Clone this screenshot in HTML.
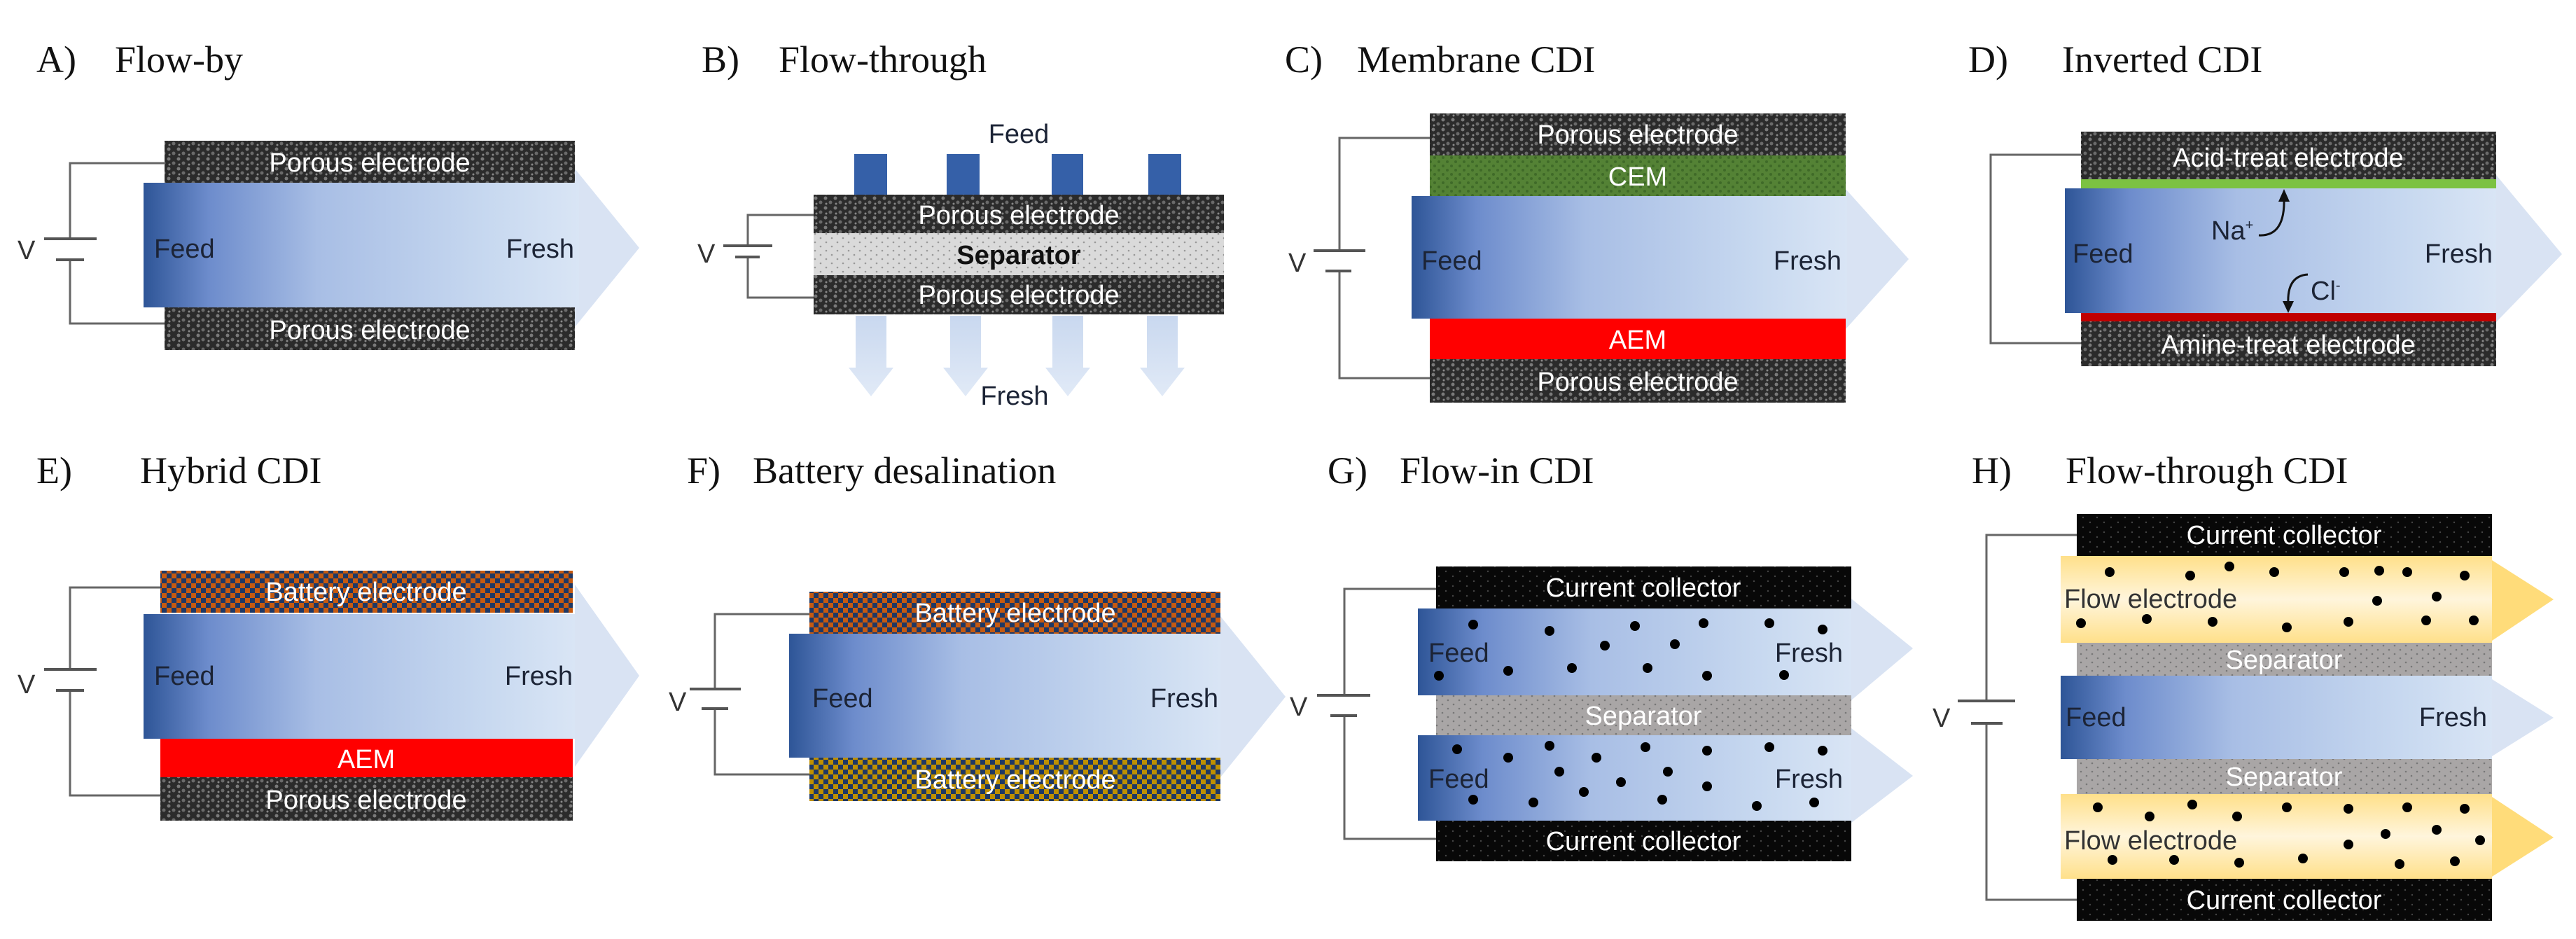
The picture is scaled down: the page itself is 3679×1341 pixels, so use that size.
<!DOCTYPE html>
<html><head><meta charset="utf-8"><style>
html,body{margin:0;padding:0;background:#fff;}
svg{display:block;}
.t{font-family:"Liberation Serif",serif;font-size:54px;fill:#111;}
.l{font-family:"Liberation Sans",sans-serif;font-size:38px;}
.w{fill:#fff;text-anchor:middle;}
.d{fill:#1c2436;}
.wire{stroke:#666;stroke-width:3;fill:none;}
.plate{stroke:#555;stroke-width:4;}
</style></head><body>
<svg width="3679" height="1341" viewBox="0 0 3679 1341" xmlns="http://www.w3.org/2000/svg">
<defs>
<pattern id="por" width="14" height="14" patternUnits="userSpaceOnUse"><rect width="14" height="14" fill="#2b2b2b"/><circle cx="3" cy="3" r="2.5" fill="#7a7a7a"/><circle cx="10" cy="9" r="2.5" fill="#6a6a6a"/><circle cx="4" cy="11" r="1.5" fill="#888"/></pattern>
<pattern id="bat1" width="14" height="14" patternUnits="userSpaceOnUse"><rect width="14" height="14" fill="#1f3864"/><rect width="7" height="7" fill="#c55a11"/><rect x="7" y="7" width="7" height="7" fill="#c55a11"/></pattern>
<pattern id="bat2" width="14" height="14" patternUnits="userSpaceOnUse"><rect width="14" height="14" fill="#1f3864"/><rect width="7" height="7" fill="#bf9000"/><rect x="7" y="7" width="7" height="7" fill="#bf9000"/></pattern>
<pattern id="sepl" width="16" height="12" patternUnits="userSpaceOnUse"><rect width="16" height="12" fill="#dadada"/><circle cx="4" cy="4" r="1.3" fill="#999"/><circle cx="12" cy="10" r="1.3" fill="#999"/></pattern>
<pattern id="sepg" width="16" height="12" patternUnits="userSpaceOnUse"><rect width="16" height="12" fill="#a9a6a6"/><circle cx="4" cy="4" r="1.3" fill="#777"/><circle cx="12" cy="10" r="1.3" fill="#777"/></pattern>
<pattern id="cc" width="20" height="14" patternUnits="userSpaceOnUse"><rect width="20" height="14" fill="#080808"/><circle cx="5" cy="4" r="1.2" fill="#444"/><circle cx="15" cy="11" r="1.2" fill="#444"/></pattern>
<pattern id="cem" width="12" height="12" patternUnits="userSpaceOnUse"><rect width="12" height="12" fill="#548235"/><circle cx="3" cy="3" r="2" fill="#3f6a28"/><circle cx="9" cy="9" r="2" fill="#3f6a28"/></pattern>
<linearGradient id="blue" x1="0" y1="0" x2="1" y2="0"><stop offset="0" stop-color="#2e5597"/><stop offset="0.15" stop-color="#6d8ccc"/><stop offset="0.4" stop-color="#a8bee5"/><stop offset="0.8" stop-color="#c8d9f0"/><stop offset="1" stop-color="#d9e5f5"/></linearGradient>
<linearGradient id="yel" x1="0" y1="0" x2="0" y2="1"><stop offset="0" stop-color="#ffe08a"/><stop offset="0.5" stop-color="#fff5dc"/><stop offset="1" stop-color="#ffe08a"/></linearGradient>
<linearGradient id="dn" x1="0" y1="0" x2="0" y2="1"><stop offset="0" stop-color="#c9d8ef"/><stop offset="1" stop-color="#e1eaf7"/></linearGradient>
</defs>

<!-- Titles -->
<text class="t" x="52" y="103">A)</text><text class="t" x="164" y="103">Flow-by</text>
<text class="t" x="1002" y="103">B)</text><text class="t" x="1112" y="103">Flow-through</text>
<text class="t" x="1835" y="103">C)</text><text class="t" x="1938" y="103">Membrane CDI</text>
<text class="t" x="2811" y="103">D)</text><text class="t" x="2945" y="103">Inverted CDI</text>
<text class="t" x="52" y="690">E)</text><text class="t" x="200" y="690">Hybrid CDI</text>
<text class="t" x="981" y="690">F)</text><text class="t" x="1075" y="690">Battery desalination</text>
<text class="t" x="1896" y="690">G)</text><text class="t" x="1999" y="690">Flow-in CDI</text>
<text class="t" x="2816" y="690">H)</text><text class="t" x="2950" y="690">Flow-through CDI</text>

<!-- A -->
<polygon points="821,241 913,354 821,467" fill="#d9e3f3"/>
<rect x="235" y="201" width="586" height="60" fill="url(#por)"/>
<text class="l w" x="528" y="245">Porous electrode</text>
<rect x="205" y="261" width="622" height="178" fill="url(#blue)"/>
<rect x="235" y="439" width="586" height="61" fill="url(#por)"/>
<text class="l w" x="528" y="484">Porous electrode</text>
<text class="l d" x="220" y="368">Feed</text><text class="l d" x="820" y="368" text-anchor="end">Fresh</text>
<path class="wire" d="M235,233 H100 V341 M100,371 V462 H235"/>
<line class="plate" x1="63" y1="341" x2="138" y2="341"/><line class="plate" x1="80" y1="371" x2="120" y2="371"/>
<text class="l" x="25" y="370" fill="#333">V</text>

<!-- B -->
<rect x="1220" y="220" width="47" height="58" fill="#3560a8"/><rect x="1352" y="220" width="47" height="58" fill="#3560a8"/>
<rect x="1502" y="220" width="45" height="58" fill="#3560a8"/><rect x="1640" y="220" width="47" height="58" fill="#3560a8"/>
<text class="l d" x="1455" y="204" text-anchor="middle">Feed</text>
<rect x="1162" y="278" width="586" height="55" fill="url(#por)"/>
<text class="l w" x="1455" y="320">Porous electrode</text>
<rect x="1162" y="333" width="586" height="60" fill="url(#sepl)"/>
<text class="l" x="1455" y="377" text-anchor="middle" font-weight="bold" fill="#111">Separator</text>
<rect x="1162" y="393" width="586" height="56" fill="url(#por)"/>
<text class="l w" x="1455" y="434">Porous electrode</text>
<g fill="url(#dn)">
<polygon points="1222,451 1266,451 1266,525 1276,525 1244,566 1212,525 1222,525"/>
<polygon points="1357,451 1401,451 1401,525 1411,525 1379,566 1347,525 1357,525"/>
<polygon points="1503,451 1547,451 1547,525 1557,525 1525,566 1493,525 1503,525"/>
<polygon points="1638,451 1682,451 1682,525 1692,525 1660,566 1628,525 1638,525"/>
</g>
<text class="l d" x="1449" y="578" text-anchor="middle">Fresh</text>
<path class="wire" d="M1162,307 H1068 V351 M1068,367 V425 H1162"/>
<line class="plate" x1="1033" y1="351" x2="1103" y2="351"/><line class="plate" x1="1050" y1="367" x2="1085" y2="367"/>
<text class="l" x="996" y="375" fill="#333">V</text>

<!-- C -->
<polygon points="2636,270 2726,370 2636,470" fill="#d9e3f3"/>
<rect x="2042" y="162" width="594" height="60" fill="url(#por)"/>
<text class="l w" x="2339" y="205">Porous electrode</text>
<rect x="2042" y="222" width="594" height="58" fill="url(#cem)"/>
<text class="l w" x="2339" y="265">CEM</text>
<rect x="2016" y="280" width="622" height="175" fill="url(#blue)"/>
<rect x="2042" y="455" width="594" height="58" fill="#ff0000"/>
<text class="l w" x="2339" y="498">AEM</text>
<rect x="2042" y="513" width="594" height="62" fill="url(#por)"/>
<text class="l w" x="2339" y="558">Porous electrode</text>
<text class="l d" x="2030" y="385">Feed</text><text class="l d" x="2630" y="385" text-anchor="end">Fresh</text>
<path class="wire" d="M2042,197 H1913 V358 M1913,387 V540 H2042"/>
<line class="plate" x1="1876" y1="358" x2="1950" y2="358"/><line class="plate" x1="1893" y1="387" x2="1930" y2="387"/>
<text class="l" x="1840" y="388" fill="#333">V</text>

<!-- D -->
<polygon points="3565,250 3659,363 3565,460" fill="#d9e3f3"/>
<rect x="2972" y="188" width="593" height="68" fill="url(#por)"/>
<text class="l w" x="3268" y="238">Acid-treat electrode</text>
<rect x="2972" y="256" width="593" height="13" fill="#7cc242"/>
<rect x="2949" y="269" width="616" height="178" fill="url(#blue)"/>
<rect x="2972" y="447" width="593" height="12" fill="#c00000"/>
<rect x="2972" y="459" width="593" height="64" fill="url(#por)"/>
<text class="l w" x="3268" y="505">Amine-treat electrode</text>
<text class="l d" x="2960" y="375">Feed</text><text class="l d" x="3560" y="375" text-anchor="end">Fresh</text>
<text class="l d" x="3158" y="342" font-size="32">Na<tspan font-size="20" dy="-14">+</tspan></text>
<path d="M3226,336 Q3264,338 3262,282" stroke="#111" stroke-width="3" fill="none"/>
<polygon points="3262,270 3254,288 3270,288" fill="#111"/>
<text class="l d" x="3300" y="428" font-size="32">Cl<tspan font-size="20" dy="-14">-</tspan></text>
<path d="M3296,392 Q3266,394 3268,434" stroke="#111" stroke-width="3" fill="none"/>
<polygon points="3268,447 3260,430 3276,430" fill="#111"/>
<path class="wire" d="M2972,221 H2843 V490 H2972"/>

<!-- E -->
<polygon points="821,835 913,965 821,1095" fill="#d9e3f3"/>
<rect x="229" y="815" width="589" height="60" fill="url(#bat1)"/>
<text class="l w" x="523" y="858">Battery electrode</text>
<rect x="205" y="877" width="616" height="178" fill="url(#blue)"/>
<rect x="229" y="1055" width="589" height="55" fill="#ff0000"/>
<text class="l w" x="523" y="1097">AEM</text>
<rect x="229" y="1110" width="589" height="62" fill="url(#por)"/>
<text class="l w" x="523" y="1155">Porous electrode</text>
<text class="l d" x="220" y="978">Feed</text><text class="l d" x="818" y="978" text-anchor="end">Fresh</text>
<path class="wire" d="M229,839 H100 V956 M100,986 V1136 H229"/>
<line class="plate" x1="63" y1="956" x2="138" y2="956"/><line class="plate" x1="80" y1="986" x2="120" y2="986"/>
<text class="l" x="25" y="990" fill="#333">V</text>

<!-- F -->
<polygon points="1743,880 1836,995 1743,1110" fill="#d9e3f3"/>
<rect x="1156" y="845" width="587" height="60" fill="url(#bat1)"/>
<text class="l w" x="1450" y="888">Battery electrode</text>
<rect x="1127" y="905" width="616" height="177" fill="url(#blue)"/>
<rect x="1156" y="1082" width="587" height="62" fill="url(#bat2)"/>
<text class="l w" x="1450" y="1126">Battery electrode</text>
<text class="l d" x="1160" y="1010">Feed</text><text class="l d" x="1740" y="1010" text-anchor="end">Fresh</text>
<path class="wire" d="M1156,877 H1021 V984 M1021,1012 V1106 H1156"/>
<line class="plate" x1="985" y1="984" x2="1058" y2="984"/><line class="plate" x1="1002" y1="1012" x2="1040" y2="1012"/>
<text class="l" x="955" y="1015" fill="#333">V</text>

<!-- G -->
<polygon points="2644,855 2732,926 2644,1000" fill="#d9e3f3"/>
<polygon points="2644,1040 2732,1108 2644,1175" fill="#d9e3f3"/>
<rect x="2051" y="809" width="593" height="60" fill="url(#cc)"/>
<text class="l w" x="2347" y="852">Current collector</text>
<rect x="2025" y="869" width="619" height="124" fill="url(#blue)"/>
<rect x="2051" y="993" width="593" height="57" fill="url(#sepg)"/>
<text class="l w" x="2347" y="1035">Separator</text>
<rect x="2025" y="1050" width="619" height="122" fill="url(#blue)"/>
<rect x="2051" y="1172" width="593" height="58" fill="url(#cc)"/>
<text class="l w" x="2347" y="1214">Current collector</text>
<text class="l d" x="2040" y="945">Feed</text><text class="l d" x="2632" y="945" text-anchor="end">Fresh</text>
<text class="l d" x="2040" y="1125">Feed</text><text class="l d" x="2632" y="1125" text-anchor="end">Fresh</text>
<g fill="#000">
<circle cx="2104" cy="892" r="7"/><circle cx="2213" cy="901" r="7"/><circle cx="2335" cy="894" r="7"/><circle cx="2433" cy="890" r="7"/><circle cx="2527" cy="890" r="7"/><circle cx="2603" cy="899" r="7"/><circle cx="2292" cy="922" r="7"/><circle cx="2392" cy="920" r="7"/><circle cx="2154" cy="958" r="7"/><circle cx="2055" cy="965" r="7"/><circle cx="2245" cy="954" r="7"/><circle cx="2353" cy="954" r="7"/><circle cx="2438" cy="965" r="7"/><circle cx="2548" cy="964" r="7"/>
<circle cx="2081" cy="1070" r="7"/><circle cx="2154" cy="1082" r="7"/><circle cx="2213" cy="1065" r="7"/><circle cx="2280" cy="1082" r="7"/><circle cx="2350" cy="1067" r="7"/><circle cx="2438" cy="1072" r="7"/><circle cx="2527" cy="1067" r="7"/><circle cx="2603" cy="1072" r="7"/><circle cx="2227" cy="1102" r="7"/><circle cx="2315" cy="1117" r="7"/><circle cx="2382" cy="1102" r="7"/><circle cx="2438" cy="1123" r="7"/><circle cx="2104" cy="1142" r="7"/><circle cx="2190" cy="1146" r="7"/><circle cx="2262" cy="1131" r="7"/><circle cx="2374" cy="1142" r="7"/><circle cx="2509" cy="1151" r="7"/><circle cx="2591" cy="1146" r="7"/>
</g>
<path class="wire" d="M2051,841 H1920 V993 M1920,1022 V1198 H2051"/>
<line class="plate" x1="1881" y1="993" x2="1957" y2="993"/><line class="plate" x1="1900" y1="1022" x2="1938" y2="1022"/>
<text class="l" x="1842" y="1022" fill="#333">V</text>

<!-- H -->
<polygon points="3559,800 3647,856 3559,915" fill="#ffdc7a"/>
<polygon points="3559,970 3647,1025 3559,1080" fill="#d9e3f3"/>
<polygon points="3559,1138 3647,1196 3559,1252" fill="#ffdc7a"/>
<rect x="2966" y="734" width="593" height="60" fill="url(#cc)"/>
<text class="l w" x="3262" y="777">Current collector</text>
<rect x="2943" y="794" width="616" height="124" fill="url(#yel)"/>
<text class="l" x="2948" y="868" fill="#333">Flow electrode</text>
<rect x="2966" y="918" width="593" height="47" fill="url(#sepg)"/>
<text class="l w" x="3262" y="955">Separator</text>
<rect x="2943" y="965" width="616" height="119" fill="url(#blue)"/>
<text class="l d" x="2950" y="1037">Feed</text><text class="l d" x="3552" y="1037" text-anchor="end">Fresh</text>
<rect x="2966" y="1084" width="593" height="50" fill="url(#sepg)"/>
<text class="l w" x="3262" y="1122">Separator</text>
<rect x="2943" y="1134" width="616" height="121" fill="url(#yel)"/>
<text class="l" x="2948" y="1213" fill="#333">Flow electrode</text>
<rect x="2966" y="1255" width="593" height="60" fill="url(#cc)"/>
<text class="l w" x="3262" y="1298">Current collector</text>
<g fill="#000">
<circle cx="3013" cy="817" r="7"/><circle cx="3128" cy="822" r="7"/><circle cx="3184" cy="809" r="7"/><circle cx="3248" cy="817" r="7"/><circle cx="3348" cy="817" r="7"/><circle cx="3398" cy="815" r="7"/><circle cx="3438" cy="817" r="7"/><circle cx="3520" cy="822" r="7"/><circle cx="3395" cy="858" r="7"/><circle cx="3480" cy="852" r="7"/><circle cx="2972" cy="890" r="7"/><circle cx="3066" cy="884" r="7"/><circle cx="3160" cy="888" r="7"/><circle cx="3266" cy="896" r="7"/><circle cx="3354" cy="888" r="7"/><circle cx="3465" cy="886" r="7"/><circle cx="3533" cy="886" r="7"/>
<circle cx="2996" cy="1153" r="7"/><circle cx="3070" cy="1166" r="7"/><circle cx="3131" cy="1149" r="7"/><circle cx="3195" cy="1166" r="7"/><circle cx="3266" cy="1153" r="7"/><circle cx="3354" cy="1155" r="7"/><circle cx="3438" cy="1153" r="7"/><circle cx="3520" cy="1155" r="7"/><circle cx="3354" cy="1206" r="7"/><circle cx="3407" cy="1191" r="7"/><circle cx="3480" cy="1185" r="7"/><circle cx="3542" cy="1200" r="7"/><circle cx="3017" cy="1228" r="7"/><circle cx="3105" cy="1228" r="7"/><circle cx="3198" cy="1232" r="7"/><circle cx="3289" cy="1226" r="7"/><circle cx="3427" cy="1234" r="7"/><circle cx="3506" cy="1230" r="7"/>
</g>
<path class="wire" d="M2966,764 H2837 V1001 M2837,1033 V1285 H2966"/>
<line class="plate" x1="2796" y1="1001" x2="2878" y2="1001"/><line class="plate" x1="2815" y1="1033" x2="2860" y2="1033"/>
<text class="l" x="2760" y="1038" fill="#333">V</text>
</svg>
</body></html>
